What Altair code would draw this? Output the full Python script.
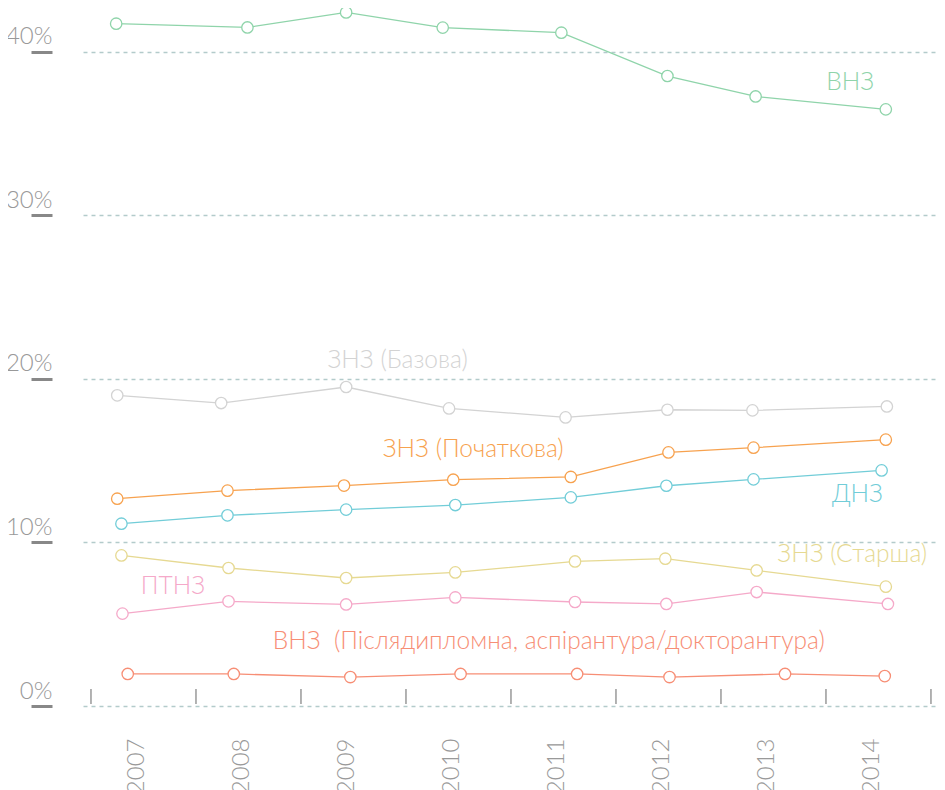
import altair as alt
import pandas as pd

years = [2007, 2008, 2009, 2010, 2011, 2012, 2013, 2014]

series_names = [
    "ВНЗ",
    "ЗНЗ (Базова)",
    "ЗНЗ (Початкова)",
    "ДНЗ",
    "ЗНЗ (Старша)",
    "ПТНЗ",
    "ВНЗ \u00a0(Післядипломна, аспірантура/докторантура)",
]
series_colors = ["#8fd4aa", "#d3d3d3", "#f7a24f", "#72cdd8", "#e6d992", "#f5a9c9", "#f78e75"]

# values (%) per year 2007..2014
vnz = [41.73, 41.50, 42.42, 41.49, 41.18, 38.53, 37.28, 36.49]
znz_bazova = [19.00, 18.53, 19.51, 18.20, 17.65, 18.12, 18.08, 18.32]
znz_pochatkova = [12.68, 13.17, 13.48, 13.84, 14.01, 15.51, 15.80, 16.29]
dnz = [11.15, 11.66, 12.01, 12.29, 12.76, 13.47, 13.86, 14.41]
znz_starsha = [9.21, 8.44, 7.83, 8.17, 8.84, 9.01, 8.29, 7.30]
ptnz = [5.65, 6.40, 6.21, 6.64, 6.36, 6.24, 6.97, 6.24]
postgrad = [1.96, 1.96, 1.77, 1.96, 1.96, 1.77, 1.96, 1.83]

# horizontal placement of each point within its year band
vnz_x = [2006.74, 2007.99, 2008.93, 2009.85, 2010.98, 2011.99, 2012.83, 2014.07]
znz_bazova_x = [2006.75, 2007.74, 2008.93, 2009.91, 2011.02, 2011.99, 2012.80, 2014.08]
znz_pochatkova_x = [2006.75, 2007.80, 2008.91, 2009.95, 2011.07, 2012.00, 2012.81, 2014.07]
dnz_x = [2006.79, 2007.80, 2008.93, 2009.97, 2011.07, 2011.98, 2012.81, 2014.03]
znz_starsha_x = [2006.79, 2007.81, 2008.93, 2009.97, 2011.11, 2011.97, 2012.84, 2014.07]
ptnz_x = [2006.80, 2007.81, 2008.93, 2009.97, 2011.11, 2011.98, 2012.84, 2014.09]
postgrad_x = [2006.85, 2007.86, 2008.97, 2010.02, 2011.13, 2012.01, 2013.11, 2014.06]

all_values = [vnz, znz_bazova, znz_pochatkova, dnz, znz_starsha, ptnz, postgrad]
all_x = [vnz_x, znz_bazova_x, znz_pochatkova_x, dnz_x, znz_starsha_x, ptnz_x, postgrad_x]

# label anchors (x position, value position)
label_x = [2013.73, 2009.42, 2010.14, 2013.80, 2013.75, 2007.28, 2010.86]
label_y = [37.7, 20.7, 15.2, 12.45, 8.78, 6.82, 3.46]

y_ticks = [0, 10, 20, 30, 40]
x_tick_bounds = [2006.5, 2007.5, 2008.5, 2009.5, 2010.5, 2011.5, 2012.5, 2013.5, 2014.5]

rows = []
for name, vals, xs in zip(series_names, all_values, all_x):
    for yr, xv, v in zip(years, xs, vals):
        rows.append({"series": name, "yr": yr, "x": xv, "value": v})
df = pd.DataFrame(rows)
labels_df = pd.DataFrame({"series": series_names, "x": label_x, "value": label_y})
ticks_df = pd.DataFrame({"x": x_tick_bounds})

FONT = "Lato"
W, H = 853, 698

xscale = alt.Scale(domain=[2006.424, 2014.548], nice=False, zero=False)
yscale = alt.Scale(domain=[0, 42.69], nice=False)
cscale = alt.Scale(domain=series_names, range=series_colors)

x_enc = alt.X(
    "x:Q",
    scale=xscale,
    axis=alt.Axis(
        values=years,
        format="d",
        title=None,
        domain=False,
        grid=False,
        ticks=False,
        tickSize=0,
        labelAngle=270,
        labelAlign="right",
        labelBaseline="alphabetic",
        labelPadding=32,
        labelFont=FONT,
        labelFontWeight=300,
        labelFontSize=24,
        labelColor="#999999",
    ),
)

y_enc = alt.Y(
    "value:Q",
    scale=yscale,
    axis=alt.Axis(
        values=y_ticks,
        labelExpr="datum.value + '%'",
        title=None,
        domain=False,
        grid=True,
        gridColor="#b3cbcb",
        gridDash=[4, 4],
        gridWidth=1.5,
        tickSize=21,
        tickWidth=3,
        tickColor="#888888",
        offset=31,
        labelAlign="right",
        labelBaseline="alphabetic",
        labelPadding=-21,
        labelOffset=-8,
        labelFont=FONT,
        labelFontWeight=300,
        labelFontSize=24,
        labelColor="#999999",
    ),
)

color_enc = alt.Color("series:N", scale=cscale, legend=None)

tick_marks = alt.Chart(ticks_df).mark_rule(color="#999999", strokeWidth=1.5).encode(
    x=x_enc,
    y=alt.value(H - 17),
    y2=alt.value(H - 2),
)

lines = alt.Chart(df).mark_line(strokeWidth=1.3).encode(
    x=x_enc,
    y=y_enc,
    color=color_enc,
    detail="series:N",
    order="yr:Q",
)

points = alt.Chart(df).mark_point(
    shape="circle", filled=False, fill="white", fillOpacity=1, size=130, strokeWidth=1.3, opacity=1
).encode(
    x=x_enc,
    y=y_enc,
    color=color_enc,
)

texts = alt.Chart(labels_df).mark_text(
    align="center", baseline="alphabetic", font=FONT, fontWeight=300, fontSize=24.5
).encode(
    x=x_enc,
    y=y_enc,
    color=color_enc,
    text="series:N",
)

chart = (
    alt.layer(tick_marks, lines, points, texts)
    .properties(
        width=W,
        height=H,
        padding={"left": 75, "top": 0, "right": 0, "bottom": 84},
        autosize=alt.AutoSizeParams(type="none"),
    )
    .configure_view(stroke=None)
)

chart.save("out.html", embed_options={"renderer": "svg", "actions": False})
